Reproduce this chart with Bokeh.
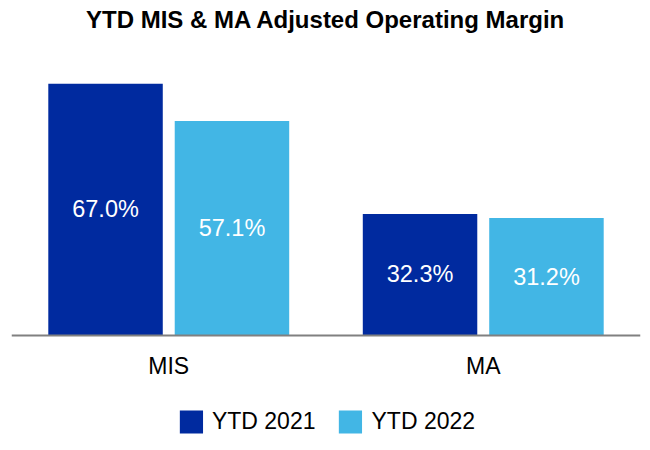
from bokeh.plotting import figure
from bokeh.models import FactorRange, Range1d, ColumnDataSource, Legend, LegendItem, CategoricalAxis
from bokeh.transform import dodge
from bokeh.core.properties import value
from bokeh.embed import file_html
from bokeh.resources import INLINE

# ---- data ----
categories = ["MIS", "MA"]
series_names = ["YTD 2021", "YTD 2022"]
ytd_2021 = [67.0, 32.3]
ytd_2022 = [57.1, 31.2]
title_text = "YTD MIS & MA Adjusted Operating Margin"

# ---- style ----
DARK = "#002A9F"
LIGHT = "#42B6E5"
FONT = "Liberation Sans"

W, H = 650, 450
PX_PER_UNIT = 3.75
FRAME_TOP = 32.0      # px
BASELINE = 334.5      # px where value 0 sits
y_end = (BASELINE - FRAME_TOP) / PX_PER_UNIT
y_start = -(H - BASELINE) / PX_PER_UNIT

src = ColumnDataSource(dict(
    cat=categories,
    y21=ytd_2021,
    y22=ytd_2022,
    m21=[v / 2 for v in ytd_2021],
    m22=[v / 2 for v in ytd_2022],
    l21=[f"{v:.1f}%" for v in ytd_2021],
    l22=[f"{v:.1f}%" for v in ytd_2022],
))

p = figure(
    x_range=FactorRange(factors=categories, range_padding=0),
    y_range=Range1d(y_start, y_end),
    width=W, height=H,
    output_backend="svg", toolbar_location=None,
    x_axis_location=None, y_axis_location=None,
    min_border_left=11, min_border_right=10, min_border_top=int(FRAME_TOP), min_border_bottom=0,
    outline_line_color=None,
    title=title_text,
)
p.grid.visible = False
p.title.align = "center"
p.title.text_font = FONT
p.title.text_font_style = "bold"
p.title.text_font_size = "24px"
p.title.text_color = "black"
p.title.standoff = 0
p.title.offset = 0

OFF = 0.201
BW = 0.364
r21 = p.vbar(x=dodge("cat", -OFF, range=p.x_range), top="y21", width=BW,
             source=src, fill_color=DARK, line_color=None)
r22 = p.vbar(x=dodge("cat", OFF, range=p.x_range), top="y22", width=BW,
             source=src, fill_color=LIGHT, line_color=None)

for xs, ys, ts in ((-OFF, "m21", "l21"), (OFF, "m22", "l22")):
    p.text(x=dodge("cat", xs, range=p.x_range), y=ys, text=ts, source=src,
           text_color="white", text_font=value(FONT), text_font_size="23.5px",
           text_align="center", text_baseline="middle")

xaxis = CategoricalAxis(
    fixed_location=0,
    axis_line_color="#808080", axis_line_width=2,
    major_tick_line_color=None, minor_tick_line_color=None,
    major_label_text_font=FONT, major_label_text_font_size="23px",
    major_label_text_color="black", major_label_standoff=12,
)
p.add_layout(xaxis, "below")

legend = Legend(
    items=[LegendItem(label=series_names[0], renderers=[r21]),
           LegendItem(label=series_names[1], renderers=[r22])],
    orientation="horizontal", location="bottom_center",
    glyph_width=29, glyph_height=29, label_height=29,
    label_standoff=7, spacing=20, padding=0, margin=14,
    border_line_color=None, background_fill_alpha=0,
    label_text_font=FONT, label_text_font_size="23px", label_text_color="black",
)
p.add_layout(legend)

open("out.html", "w").write(file_html(p, INLINE))
